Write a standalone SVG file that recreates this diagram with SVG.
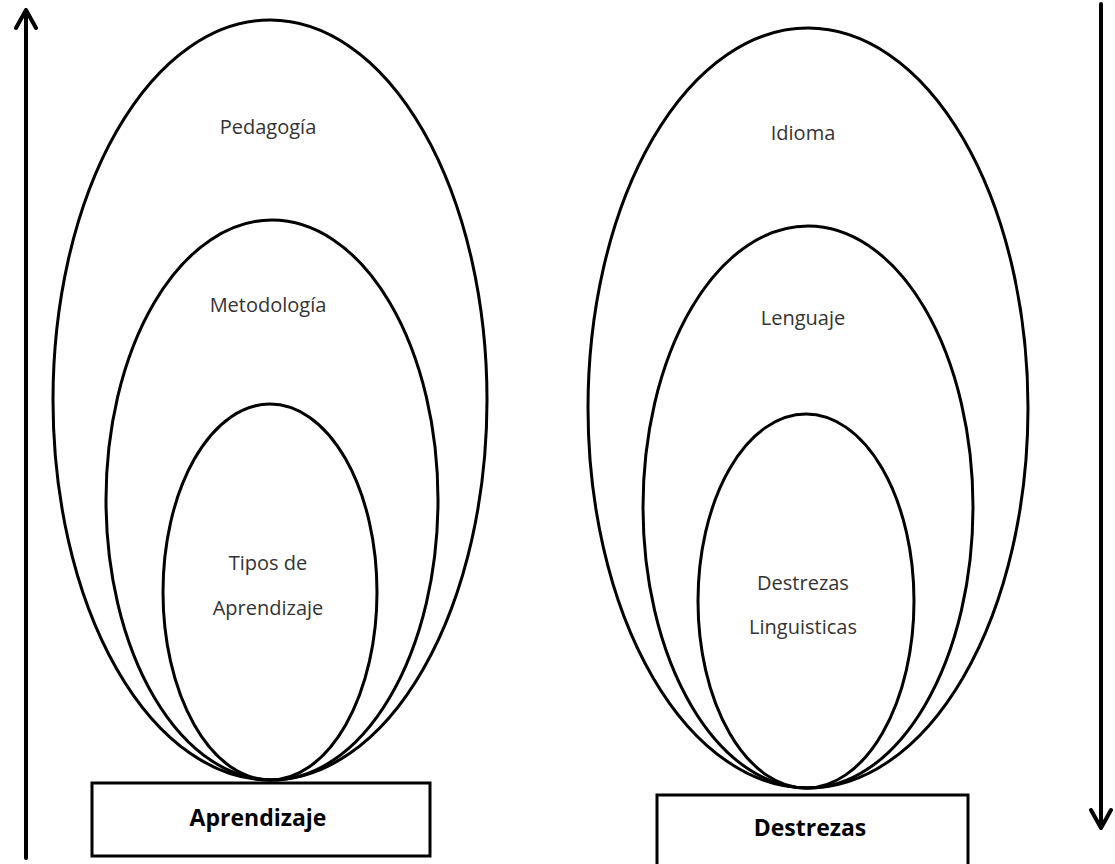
<svg xmlns="http://www.w3.org/2000/svg" width="1115" height="864" viewBox="0 0 1115 864">
<style>
.ring{fill:none;stroke:#000;stroke-width:3}
.lbl{font-family:"Open Sans","Liberation Sans",sans-serif;font-size:20px;fill:#333;text-anchor:middle}
.box{fill:#fff;stroke:#000;stroke-width:3}
.btxt{font-family:"Open Sans","Liberation Sans",sans-serif;font-size:23px;font-weight:bold;fill:#000;text-anchor:middle}
.arr{fill:none;stroke:#000;stroke-width:4;stroke-linecap:round;stroke-linejoin:round}
</style>
<rect width="1115" height="864" fill="#fff"/>
<g id="left-outer"><ellipse class="ring" cx="270" cy="400" rx="217" ry="380"/><text class="lbl" x="268" y="134">Pedagogía</text></g>
<g id="left-middle"><ellipse class="ring" cx="272" cy="500" rx="166" ry="280"/><text class="lbl" x="268" y="312">Metodología</text></g>
<g id="left-inner"><ellipse class="ring" cx="270" cy="592" rx="107" ry="188"/><text class="lbl" x="268" y="570">Tipos de</text><text class="lbl" x="268" y="615">Aprendizaje</text></g>
<g id="left-box"><rect class="box" x="92" y="783" width="338" height="73"/><text class="btxt" x="258" y="826">Aprendizaje</text></g>
<g id="right-outer"><ellipse class="ring" cx="808" cy="408" rx="220" ry="380"/><text class="lbl" x="803" y="140">Idioma</text></g>
<g id="right-middle"><ellipse class="ring" cx="808" cy="507" rx="165" ry="281"/><text class="lbl" x="803" y="325">Lenguaje</text></g>
<g id="right-inner"><ellipse class="ring" cx="806" cy="601" rx="108" ry="187"/><text class="lbl" x="803" y="590">Destrezas</text><text class="lbl" x="803" y="634">Linguisticas</text></g>
<g id="right-box"><rect class="box" x="657" y="795" width="311" height="72"/><text class="btxt" x="810" y="836">Destrezas</text></g>
<g id="connectors">
<path class="arr" d="M26 858 V10 M16 28 L26 10 L36 28"/>
<path class="arr" d="M1101 4 V828 M1091 810 L1101 828 L1111 810"/>
</g>
</svg>
